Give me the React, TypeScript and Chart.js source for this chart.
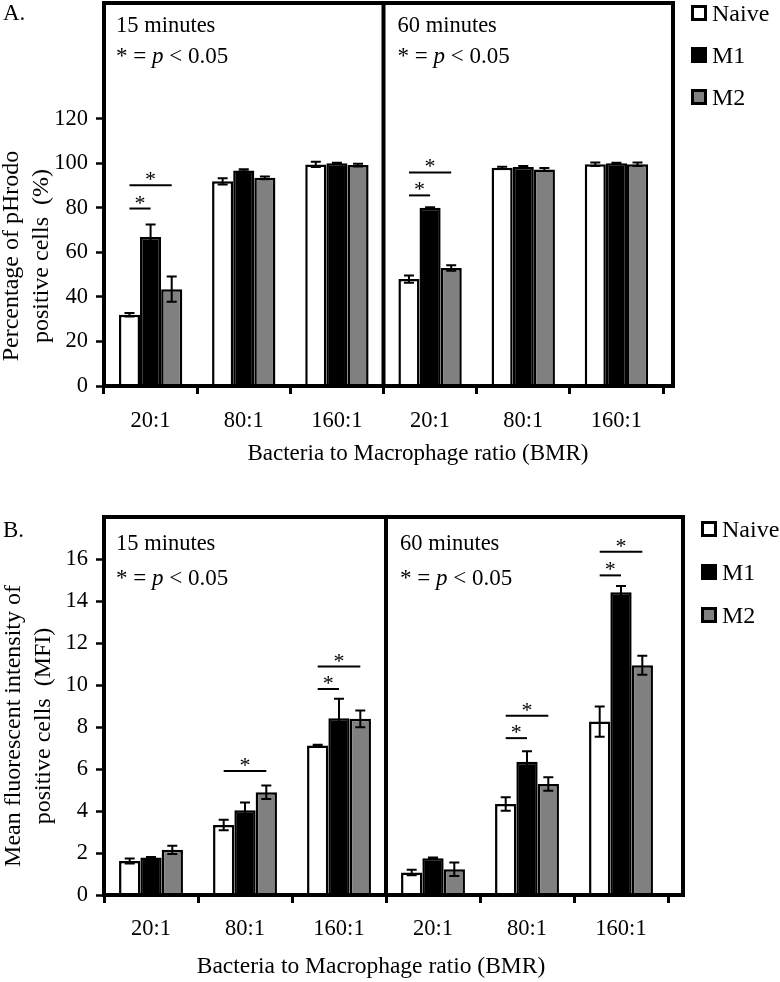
import React, { useEffect, useRef } from "react";
import { Chart, registerables } from "chart.js";

Chart.register(...registerables);

// ---------- data ----------
const categories = ["20:1", "80:1", "160:1", "20:1", "80:1", "160:1"];
const seriesNames = ["Naive", "M1", "M2"];
const seriesColors = ["#ffffff", "#000000", "#808080"];
const panelTimes = ["15 minutes", "60 minutes"];

// Panel A: percentage of pHrodo positive cells (%)
const aNaive = [32.0, 91.9, 99.5, 48.0, 98.0, 99.6];
const aM1 = [66.9, 96.8, 100.0, 80.0, 98.4, 100.0];
const aM2 = [43.5, 93.5, 99.2, 53.0, 97.2, 99.6];
const aNaiveErr = [0.8, 1.4, 1.2, 1.6, 0.5, 0.8];
const aM1Err = [5.6, 0.5, 0.3, 0.3, 0.4, 0.3];
const aM2Err = [5.7, 0.6, 0.6, 1.2, 0.7, 0.8];
const aTicks = [0, 20, 40, 60, 80, 100, 120];
const aSigCat = [0, 0, 3, 3];
const aSigTo = [1, 2, 1, 2];
const aSigY = [79.7, 90.1, 85.6, 95.9];

// Panel B: mean fluorescent intensity (MFI)
const bNaive = [1.62, 3.33, 7.12, 1.07, 4.33, 8.26];
const bM1 = [1.78, 4.04, 8.42, 1.75, 6.35, 14.42];
const bM2 = [2.15, 4.89, 8.39, 1.23, 5.29, 10.94];
const bNaiveErr = [0.12, 0.25, 0.03, 0.13, 0.32, 0.72];
const bM1Err = [0.03, 0.37, 0.93, 0.03, 0.5, 0.3];
const bM2Err = [0.2, 0.32, 0.4, 0.32, 0.32, 0.45];
const bTicks = [0, 2, 4, 6, 8, 10, 12, 14, 16];
const bSigCat = [1, 2, 2, 4, 4, 5, 5];
const bSigTo = [2, 1, 2, 1, 2, 1, 2];
const bSigY = [5.91, 9.81, 10.88, 7.47, 8.54, 15.22, 16.34];

const xTitle = "Bacteria to Macrophage ratio (BMR)";
const aYTitle = ["Percentage of pHrodo", "positive cells  (%)"];
const bYTitle = ["Mean fluorescent intensity of", "positive cells  (MFI)"];

const FONT = "'Liberation Serif', 'Times New Roman', Times, serif";

type Spec = {
  letter: string;
  letterBaseline: number;
  values: number[][];
  errs: number[][];
  ticks: number[];
  sigCat: number[];
  sigTo: number[];
  sigY: number[];
  yTitle: string[];
  yMax: number;
  canvasH: number;
  areaTop: number;
  areaBottom: number;
  areaLeft: number;
  areaRight: number;
  boxExtra: number;
  timeBase: number[];
  xTitleX: number;
  xTitleBase: number;
  xTitleSize: number;
  yTitleY: number;
  yTitleBase: number[];
  legendTop: number;
  legendStep: number;
  xTickPad: number;
};

const specA: Spec = {
  letter: "A.",
  letterBaseline: 20,
  values: [aNaive, aM1, aM2],
  errs: [aNaiveErr, aM1Err, aM2Err],
  ticks: aTicks,
  sigCat: aSigCat,
  sigTo: aSigTo,
  sigY: aSigY,
  yTitle: aYTitle,
  yMax: 172,
  canvasH: 490,
  areaTop: 3,
  areaBottom: 386,
  areaLeft: 104,
  areaRight: 663,
  boxExtra: 10,
  timeBase: [32, 63],
  xTitleX: 418,
  xTitleBase: 460,
  xTitleSize: 23,
  yTitleY: 256,
  yTitleBase: [18, 48],
  legendTop: 5,
  legendStep: 42,
  xTickPad: 14,
};

const specB: Spec = {
  letter: "B.",
  letterBaseline: 47,
  values: [bNaive, bM1, bM2],
  errs: [bNaiveErr, bM1Err, bM2Err],
  ticks: bTicks,
  sigCat: bSigCat,
  sigTo: bSigTo,
  sigY: bSigY,
  yTitle: bYTitle,
  yMax: 18,
  canvasH: 492,
  areaTop: 27,
  areaBottom: 405,
  areaLeft: 104,
  areaRight: 668,
  boxExtra: 15,
  timeBase: [60, 95],
  xTitleX: 371,
  xTitleBase: 483,
  xTitleSize: 23.5,
  yTitleY: 236,
  yTitleBase: [20, 50],
  legendTop: 31,
  legendStep: 43,
  xTickPad: 13,
};

function drawPLine(ctx: CanvasRenderingContext2D, x: number, y: number, size: number) {
  const normal = `${size}px ${FONT}`;
  const italic = `italic ${size}px ${FONT}`;
  ctx.textAlign = "left";
  ctx.textBaseline = "alphabetic";
  ctx.font = normal;
  const a = "* = ";
  ctx.fillText(a, x, y);
  let cx = x + ctx.measureText(a).width;
  ctx.font = italic;
  ctx.fillText("p", cx, y);
  cx += ctx.measureText("p").width;
  ctx.font = normal;
  ctx.fillText(" < 0.05", cx, y);
}

function makeDecor(spec: Spec) {
  return {
    id: "decor",
    afterDatasetsDraw(chart: any) {
      const ctx: CanvasRenderingContext2D = chart.ctx;
      const { left, top, right, bottom } = chart.chartArea;
      const xs = chart.scales.x;
      const ys = chart.scales.y;
      ctx.save();

      // error bars
      ctx.strokeStyle = "#000";
      ctx.lineWidth = 2;
      spec.errs.forEach((errArr, d) => {
        const meta = chart.getDatasetMeta(d);
        meta.data.forEach((el: any, i: number) => {
          const v = spec.values[d][i];
          const e = errArr[i];
          const x = el.x;
          const y1 = ys.getPixelForValue(v + e);
          const y2 = ys.getPixelForValue(v - e);
          const cw = 5;
          ctx.beginPath();
          ctx.moveTo(x, y1);
          ctx.lineTo(x, y2);
          ctx.moveTo(x - cw, y1);
          ctx.lineTo(x + cw, y1);
          ctx.moveTo(x - cw, y2);
          ctx.lineTo(x + cw, y2);
          ctx.stroke();
        });
      });

      // significance lines and stars
      const meta0 = chart.getDatasetMeta(0);
      spec.sigCat.forEach((cat, k) => {
        const x1 = meta0.data[cat].x;
        const x2 = chart.getDatasetMeta(spec.sigTo[k]).data[cat].x;
        const y = ys.getPixelForValue(spec.sigY[k]);
        ctx.strokeStyle = "#000";
        ctx.lineWidth = 2;
        ctx.beginPath();
        ctx.moveTo(x1, y);
        ctx.lineTo(x2, y);
        ctx.stroke();
        ctx.fillStyle = "#000";
        ctx.font = `22px ${FONT}`;
        ctx.textAlign = "center";
        ctx.textBaseline = "alphabetic";
        ctx.fillText("*", (x1 + x2) / 2, y + 1);
      });

      // frame
      const boxRight = right + spec.boxExtra;
      const divider = (xs.getPixelForValue(2) + xs.getPixelForValue(3)) / 2;
      ctx.strokeStyle = "#000";
      ctx.lineWidth = 4;
      ctx.lineJoin = "miter";
      ctx.strokeRect(left, top, boxRight - left, bottom - top);
      ctx.beginPath();
      ctx.moveTo(divider, top);
      ctx.lineTo(divider, bottom);
      ctx.stroke();

      // panel texts
      ctx.fillStyle = "#000";
      const panelX = [left + 12, divider + 14];
      panelX.forEach((px, p) => {
        ctx.font = `22.5px ${FONT}`;
        ctx.textAlign = "left";
        ctx.textBaseline = "alphabetic";
        ctx.fillText(panelTimes[p], px, spec.timeBase[0]);
        drawPLine(ctx, px, spec.timeBase[1], 23);
      });

      // legend
      const lx = boxRight + 18;
      seriesNames.forEach((name, d) => {
        const sy = spec.legendTop + d * spec.legendStep;
        ctx.fillStyle = seriesColors[d];
        ctx.fillRect(lx, sy, 16, 16);
        ctx.strokeStyle = "#000";
        ctx.lineWidth = 3;
        ctx.strokeRect(lx + 1.5, sy + 1.5, 13, 13);
        ctx.fillStyle = "#000";
        ctx.font = `24px ${FONT}`;
        ctx.textAlign = "left";
        ctx.textBaseline = "alphabetic";
        ctx.fillText(name, lx + 21, sy + 16);
      });

      // panel letter
      ctx.font = `23px ${FONT}`;
      ctx.textAlign = "left";
      ctx.fillText(spec.letter, 3, spec.letterBaseline);

      // x axis title
      ctx.font = `${spec.xTitleSize}px ${FONT}`;
      ctx.textAlign = "center";
      ctx.fillText(xTitle, spec.xTitleX, spec.xTitleBase);

      // y axis title (rotated, two lines)
      spec.yTitle.forEach((line, i) => {
        ctx.save();
        ctx.translate(spec.yTitleBase[i], spec.yTitleY);
        ctx.rotate(-Math.PI / 2);
        ctx.font = `24px ${FONT}`;
        ctx.textAlign = "center";
        ctx.textBaseline = "alphabetic";
        ctx.fillText(line, 0, 0);
        ctx.restore();
      });

      ctx.restore();
    },
  };
}

function buildConfig(spec: Spec): any {
  return {
    type: "bar",
    data: {
      labels: categories,
      datasets: spec.values.map((vals, d) => ({
        label: seriesNames[d],
        data: vals,
        backgroundColor: seriesColors[d],
        borderColor: "#000",
        borderWidth: 2.5,
        borderSkipped: "start",
        categoryPercentage: 0.68,
        barPercentage: 1.0,
      })),
    },
    options: {
      responsive: false,
      animation: false,
      events: [],
      layout: {
        autoPadding: false,
        padding: { left: 0, top: spec.areaTop, right: 780 - spec.areaRight, bottom: 0 },
      },
      plugins: { legend: { display: false }, tooltip: { enabled: false }, title: { display: false } },
      scales: {
        x: {
          type: "category",
          offset: true,
          grid: {
            display: true,
            drawOnChartArea: false,
            offset: true,
            tickLength: 8,
            tickWidth: 3,
            tickColor: "#000",
          },
          border: { display: false },
          ticks: {
            color: "#000",
            font: { family: FONT, size: 22.5 },
            padding: spec.xTickPad,
            maxRotation: 0,
            autoSkip: false,
          },
          afterFit: (s: any) => {
            s.height = spec.canvasH - spec.areaBottom;
            s.paddingLeft = 0;
            s.paddingRight = 0;
          },
        },
        y: {
          type: "linear",
          min: 0,
          max: spec.yMax,
          afterBuildTicks: (s: any) => {
            s.ticks = spec.ticks.map((v) => ({ value: v }));
          },
          grid: {
            display: true,
            drawOnChartArea: false,
            tickLength: 8,
            tickWidth: 2.5,
            tickColor: "#000",
          },
          border: { display: false },
          ticks: {
            color: "#000",
            font: { family: FONT, size: 22.5 },
            padding: 8,
          },
          afterFit: (s: any) => {
            s.width = spec.areaLeft;
            s.paddingTop = 0;
            s.paddingBottom = 0;
          },
        },
      },
    },
    plugins: [makeDecor(spec)],
  };
}

function Panel({ spec, top }: { spec: Spec; top: number }) {
  const ref = useRef<HTMLCanvasElement>(null);
  useEffect(() => {
    const chart = new Chart(ref.current as HTMLCanvasElement, buildConfig(spec));
    return () => chart.destroy();
  }, [spec]);
  return (
    <canvas
      ref={ref}
      width={780}
      height={spec.canvasH}
      style={{ position: "absolute", left: 0, top, width: 780, height: spec.canvasH, display: "block" }}
    />
  );
}

export default function App() {
  return (
    <div style={{ position: "absolute", left: 0, top: 0, width: 780, height: 982, background: "#fff" }}>
      <Panel spec={specA} top={0} />
      <Panel spec={specB} top={490} />
    </div>
  );
}
